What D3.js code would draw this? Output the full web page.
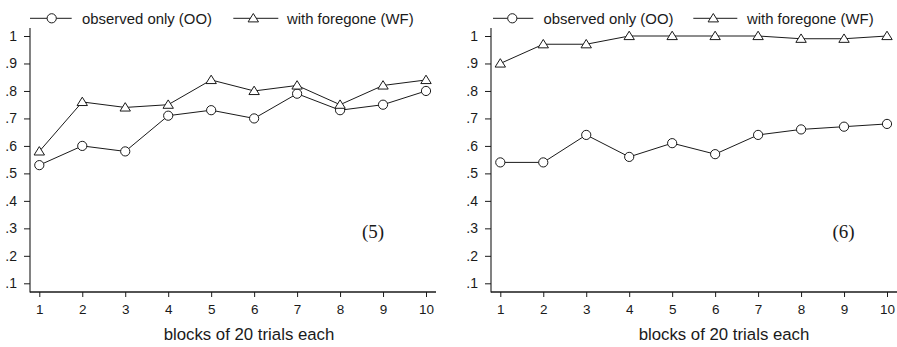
<!DOCTYPE html>
<html><head><meta charset="utf-8">
<script src="https://cdn.jsdelivr.net/npm/d3@7"></script>
<style>
html,body{margin:0;padding:0;background:#fff;}
svg{display:block;}
</style></head>
<body>
<svg id="chart" width="897" height="347"></svg>
<script>
// ---- data ----
const blocks = [1,2,3,4,5,6,7,8,9,10];
const yTicks = [0.1,0.2,0.3,0.4,0.5,0.6,0.7,0.8,0.9,1];
const yTickLabels = [".1",".2",".3",".4",".5",".6",".7",".8",".9","1"];
const seriesNames = ["observed only (OO)", "with foregone (WF)"];
const panelLabels = ["(5)", "(6)"];
const xTitle = "blocks of 20 trials each";
const oo5 = [0.53,0.60,0.58,0.71,0.73,0.70,0.79,0.73,0.75,0.80];
const wf5 = [0.58,0.76,0.74,0.75,0.84,0.80,0.82,0.75,0.82,0.84];
const oo6 = [0.54,0.54,0.64,0.56,0.61,0.57,0.64,0.66,0.67,0.68];
const wf6 = [0.90,0.97,0.97,1.00,1.00,1.00,1.00,0.99,0.99,1.00];

const svg = d3.select("#chart");
const ink = "#1a1a1a";
const sans = "'Liberation Sans', Arial, Helvetica, sans-serif";

const panels = [
  {ox:30, xr:[39.3,426], axisEnd:436, titleX:249, labelX:373, oo:oo5, wf:wf5, lab:panelLabels[0],
   leg:{l1:[30,71.7], c1:51.7, t1:82, l2:[233.3,278.3], c2:253.3, t2:287}},
  {ox:491, xr:[500.3,887], axisEnd:897, titleX:724, labelX:843.5, oo:oo6, wf:wf6, lab:panelLabels[1],
   leg:{l1:[493,533.3], c1:512.3, t1:543.5, l2:[693.3,737.3], c2:713.3, t2:747}}
];

const y = d3.scaleLinear().domain([0.1,1]).range([283.3,36]);
const axisBottomY = 292, axisTopY = 28;

function triPath(cx, cy){
  const w=5.2, hUp=4.8, hDn=3.6;
  return `M${cx},${cy-hUp}L${cx+w},${cy+hDn}L${cx-w},${cy+hDn}Z`;
}

panels.forEach(p => {
  const g = svg.append("g");
  const x = d3.scaleLinear().domain([1,10]).range(p.xr);

  // y axis
  const yAxis = d3.axisLeft(y).tickValues(yTicks)
    .tickFormat((d,i)=>yTickLabels[i]).tickSize(6).tickPadding(7);
  const ya = g.append("g").attr("transform",`translate(${p.ox},0)`).call(yAxis);
  ya.select(".domain").remove();
  ya.selectAll(".tick line").attr("stroke",ink).attr("stroke-width",1);
  ya.selectAll(".tick text").attr("font-family",sans).attr("font-size",14).attr("fill",ink);
  g.append("line").attr("x1",p.ox).attr("x2",p.ox).attr("y1",axisTopY).attr("y2",axisBottomY+0.5)
    .attr("stroke",ink).attr("stroke-width",1.1);

  // x axis
  const xAxis = d3.axisBottom(x).tickValues(blocks).tickFormat(d3.format("d")).tickSize(5).tickPadding(7);
  const xa = g.append("g").attr("transform",`translate(0,${axisBottomY})`).call(xAxis);
  xa.select(".domain").remove();
  xa.selectAll(".tick line").attr("stroke",ink).attr("stroke-width",1);
  xa.selectAll(".tick text").attr("font-family",sans).attr("font-size",13.5).attr("fill",ink);
  g.append("line").attr("x1",p.ox).attr("x2",p.axisEnd).attr("y1",axisBottomY).attr("y2",axisBottomY)
    .attr("stroke",ink).attr("stroke-width",1.3);

  g.append("text").attr("x",p.titleX).attr("y",340).attr("text-anchor","middle")
    .attr("font-family",sans).attr("font-size",16.8).attr("fill",ink).text(xTitle);

  g.append("text").attr("x",p.labelX).attr("y",238).attr("text-anchor","middle")
    .attr("font-family","'Liberation Serif', 'Times New Roman', serif").attr("font-size",19)
    .attr("fill",ink).text(p.lab);

  // lines
  const line = d3.line().x((d,i)=>x(blocks[i])).y(d=>y(d));
  [p.oo, p.wf].forEach(s => {
    g.append("path").datum(s).attr("d",line).attr("fill","none").attr("stroke",ink).attr("stroke-width",1);
  });
  // markers
  g.selectAll(".oo").data(p.oo).enter().append("circle")
    .attr("cx",(d,i)=>x(blocks[i])).attr("cy",d=>y(d)).attr("r",4.6)
    .attr("fill","#fff").attr("stroke",ink).attr("stroke-width",1);
  g.selectAll(".wf").data(p.wf).enter().append("path")
    .attr("d",(d,i)=>triPath(x(blocks[i]), y(d)))
    .attr("fill","#fff").attr("stroke",ink).attr("stroke-width",1);

  // legend
  const L = p.leg, ly = 18.3;
  g.append("line").attr("x1",L.l1[0]).attr("x2",L.l1[1]).attr("y1",ly).attr("y2",ly).attr("stroke",ink);
  g.append("circle").attr("cx",L.c1).attr("cy",ly).attr("r",4.6).attr("fill","#fff").attr("stroke",ink);
  g.append("text").attr("x",L.t1).attr("y",ly+5.3).attr("font-family",sans).attr("font-size",14.9)
    .attr("fill",ink).text(seriesNames[0]);
  g.append("line").attr("x1",L.l2[0]).attr("x2",L.l2[1]).attr("y1",ly).attr("y2",ly).attr("stroke",ink);
  g.append("path").attr("d",triPath(L.c2,ly)).attr("fill","#fff").attr("stroke",ink);
  g.append("text").attr("x",L.t2).attr("y",ly+5.3).attr("font-family",sans).attr("font-size",14.9)
    .attr("fill",ink).text(seriesNames[1]);
});
</script>
</body></html>
